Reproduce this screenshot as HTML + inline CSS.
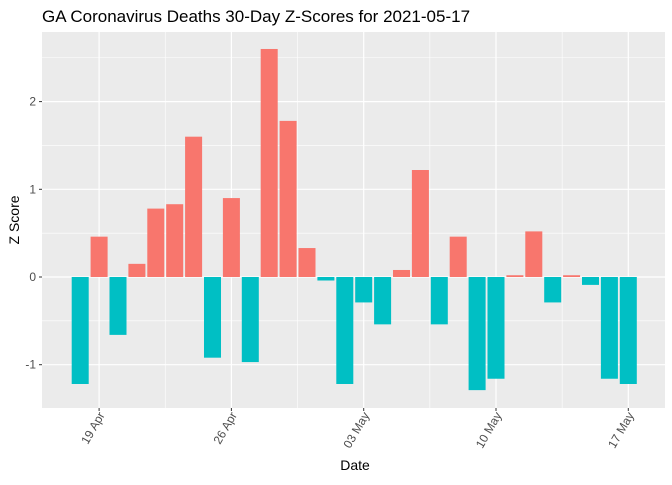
<!DOCTYPE html>
<html><head><meta charset="utf-8"><style>
body{margin:0;background:#fff;font-family:"Liberation Sans",sans-serif}
</style>
<script>
var dates=["2021-04-18","2021-04-19","2021-04-20","2021-04-21","2021-04-22","2021-04-23","2021-04-24","2021-04-25","2021-04-26","2021-04-27","2021-04-28","2021-04-29","2021-04-30","2021-05-01","2021-05-02","2021-05-03","2021-05-04","2021-05-05","2021-05-06","2021-05-07","2021-05-08","2021-05-09","2021-05-10","2021-05-11","2021-05-12","2021-05-13","2021-05-14","2021-05-15","2021-05-16","2021-05-17"];
var zscores=[-1.22,0.46,-0.66,0.15,0.78,0.83,1.6,-0.92,0.9,-0.97,2.6,1.78,0.33,-0.04,-1.22,-0.29,-0.54,0.08,1.22,-0.54,0.46,-1.29,-1.16,0.02,0.52,-0.29,0.02,-0.09,-1.16,-1.22];
var yTicks=[-1,0,1,2];
var xTickLabels=["19 Apr","26 Apr","03 May","10 May","17 May"];
var xTickIdx=[1,8,15,22,29];
</script>
</head><body>
<svg width="672" height="480" xmlns="http://www.w3.org/2000/svg">
<text x="42" y="22" font-size="17" fill="#000">GA Coronavirus Deaths 30-Day Z-Scores for 2021-05-17</text>
<rect x="42" y="32" width="623" height="376" fill="#EBEBEB"/>
<g id="grid"></g><g id="bars"></g><g id="axes"></g>
<text x="355" y="470" font-size="14" text-anchor="middle">Date</text>
<text transform="translate(19,220) rotate(-90)" font-size="14" text-anchor="middle">Z Score</text>
</svg>
<script>
var NS="http://www.w3.org/2000/svg";
var X0=80.2,DX=18.9,Y0=277,DY=87.7,L=42,R=665,T=32,B=408;
function xs(i){return X0+i*DX;}
function ys(v){return Y0-v*DY;}
function mk(t,a,p){var e=document.createElementNS(NS,t);for(var k in a)e.setAttribute(k,a[k]);p.appendChild(e);return e;}
var g=document.getElementById('grid');
[-0.5,0.5,1.5,2.5].forEach(function(v){var l=mk('line',{x1:L,x2:R,y1:ys(v),y2:ys(v),stroke:'#fff','stroke-width':0.6},g);

});
for(var k=0;k<xTickIdx.length-1;k++){var x=(xs(xTickIdx[k])+xs(xTickIdx[k+1]))/2;var l=mk('line',{x1:x,x2:x,y1:T,y2:B,stroke:'#fff','stroke-width':0.6},g);

}
yTicks.forEach(function(v){var l=mk('line',{x1:L,x2:R,y1:ys(v),y2:ys(v),stroke:'#fff','stroke-width':1.2},g);

});
xTickIdx.forEach(function(i){var l=mk('line',{x1:xs(i),x2:xs(i),y1:T,y2:B,stroke:'#fff','stroke-width':1.2},g);

});
var bg=document.getElementById('bars');var w=DX*0.9;
zscores.forEach(function(v,i){var r=mk('rect',{x:xs(i)-w/2,y:Math.min(ys(v),Y0),width:w,height:Math.abs(ys(v)-Y0),fill:v>=0?'#F8766D':'#00BFC4'},bg);

});
var ax=document.getElementById('axes');
yTicks.forEach(function(v){mk('line',{x1:L-3,x2:L,y1:ys(v),y2:ys(v),stroke:'#333'},ax);
var t=mk('text',{x:L-6,y:ys(v)+4,'font-size':12,'text-anchor':'end',fill:'#4D4D4D'},ax);t.textContent=v;

});
xTickIdx.forEach(function(i,k){var x=xs(i);mk('line',{x1:x,x2:x,y1:B,y2:B+3,stroke:'#333'},ax);
var t=mk('text',{transform:'translate('+(x+6)+','+(B+7)+') rotate(-60)','font-size':12,'text-anchor':'end',fill:'#4D4D4D'},ax);t.textContent=xTickLabels[k];

});
</script>
</body></html>
